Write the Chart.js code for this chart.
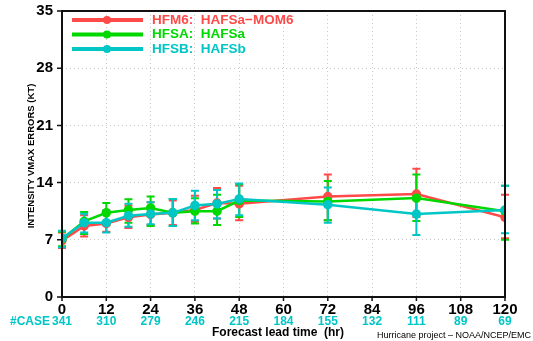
<!DOCTYPE html>
<html>
<head>
<meta charset="utf-8">
<script src="https://cdn.jsdelivr.net/npm/chart.js@4/dist/chart.umd.min.js"></script>
<style>
  html, body { margin: 0; padding: 0; background: #fff; }
  #wrap { width: 533px; height: 341px; }
</style>
</head>
<body>
<div id="wrap"><canvas id="chart" width="533" height="341"></canvas></div>
<script>
// forecast lead times (hr)
const leadTimes = [0, 6, 12, 18, 24, 30, 36, 42, 48, 72, 96, 120];
const caseCounts = [341, 310, 279, 246, 215, 184, 155, 132, 111, 89, 69];
const caseHours = [0, 12, 24, 36, 48, 60, 72, 84, 96, 108, 120];

// mean errors
const hfm6 = [6.9, 8.7, 9.0, 9.75, 10.1, 10.3, 10.65, 11.5, 11.4, 12.3, 12.6, 9.75];
const hfsa = [7.1, 9.25, 10.3, 10.65, 10.9, 10.3, 10.5, 10.5, 11.8, 11.7, 12.1, 10.5];
const hfsb = [7.2, 9.1, 9.1, 9.95, 10.15, 10.3, 11.2, 11.4, 12.0, 11.3, 10.15, 10.65];

// error bar ends (low / high)
const hfm6Lo = [6.0, 7.4, 8.0, 8.45, 8.8, 8.8, 9.2, 9.6, 9.4, 9.4, 9.8, 7.2];
const hfm6Hi = [7.9, 10.0, 10.6, 11.2, 11.6, 11.8, 12.4, 13.35, 13.6, 15.0, 15.7, 12.5];
const hfsaLo = [6.2, 7.7, 8.8, 9.1, 8.7, 8.7, 9.0, 8.8, 9.8, 9.4, 9.3, 7.0];
const hfsaHi = [8.0, 10.4, 11.5, 11.95, 12.3, 12.0, 12.1, 12.5, 13.8, 14.2, 15.0, 13.6];
const hfsbLo = [6.1, 7.9, 7.9, 8.6, 8.9, 8.7, 9.4, 9.6, 10.0, 9.1, 7.6, 7.8];
const hfsbHi = [8.1, 10.2, 10.6, 11.4, 11.6, 12.0, 13.0, 13.1, 13.9, 13.4, 12.7, 13.6];

const yTicks = [0, 7, 14, 21, 28, 35];

const RED = '#ff4a4a';
const GREEN = '#00d800';
const CYAN = '#00c6c6';
const FONT = '"Liberation Sans", Arial, sans-serif';

function pts(vals) {
  return leadTimes.map((t, i) => ({ x: t, y: vals[i] }));
}

const series = [
  { label: 'HFM6:  HAFSa\u2212MOM6', color: RED, data: hfm6, lo: hfm6Lo, hi: hfm6Hi, order: 2 },
  { label: 'HFSA:  HAFSa', color: GREEN, data: hfsa, lo: hfsaLo, hi: hfsaHi, order: 1 },
  { label: 'HFSB:  HAFSb', color: CYAN, data: hfsb, lo: hfsbLo, hi: hfsbHi, order: 0 }
];

// error bars, frame, tick marks, legend and extra text
const extras = {
  id: 'extras',
  beforeDatasetsDraw(chart) {
    const ctx = chart.ctx;
    const x = chart.scales.x, y = chart.scales.y;
    ctx.save();
    series.forEach((s) => {
      ctx.strokeStyle = s.color;
      ctx.lineWidth = 2;
      leadTimes.forEach((t, i) => {
        const px = x.getPixelForValue(t);
        const y1 = y.getPixelForValue(s.lo[i]);
        const y2 = y.getPixelForValue(s.hi[i]);
        ctx.beginPath();
        ctx.moveTo(px, y1); ctx.lineTo(px, y2);
        ctx.moveTo(px - 4, y1); ctx.lineTo(px + 4, y1);
        ctx.moveTo(px - 4, y2); ctx.lineTo(px + 4, y2);
        ctx.stroke();
      });
    });
    ctx.restore();
  },
  afterDraw(chart) {
    const ctx = chart.ctx;
    const a = chart.chartArea;
    const x = chart.scales.x, y = chart.scales.y;
    ctx.save();
    // frame
    ctx.strokeStyle = '#111';
    ctx.lineWidth = 2;
    ctx.strokeRect(a.left, a.top, a.right - a.left, a.bottom - a.top);
    // tick marks
    ctx.lineWidth = 1.5;
    ctx.beginPath();
    yTicks.forEach((v) => {
      const py = y.getPixelForValue(v);
      ctx.moveTo(a.left - 5, py); ctx.lineTo(a.left, py);
    });
    caseHours.forEach((h) => {
      const px = x.getPixelForValue(h);
      ctx.moveTo(px, a.bottom); ctx.lineTo(px, a.bottom + 4);
    });
    ctx.stroke();

    // legend
    ctx.font = 'bold 13.5px ' + FONT;
    ctx.textBaseline = 'middle';
    ctx.textAlign = 'left';
    series.forEach((s, i) => {
      const ly = 20 + i * 14.5;
      ctx.strokeStyle = s.color;
      ctx.fillStyle = s.color;
      ctx.lineWidth = 4;
      ctx.beginPath();
      ctx.moveTo(72, ly); ctx.lineTo(143, ly);
      ctx.stroke();
      ctx.beginPath();
      ctx.arc(107, ly, 4, 0, Math.PI * 2);
      ctx.fill();
      ctx.fillText(s.label, 152, ly);
    });

    // case counts
    ctx.font = 'bold 12px ' + FONT;
    ctx.fillStyle = CYAN;
    ctx.textAlign = 'center';
    caseHours.forEach((h, i) => {
      const px = x.getPixelForValue(h);
      ctx.fillText(String(caseCounts[i]), px, 322);
    });
    ctx.textAlign = 'right';
    ctx.fillText('#CASE', x.getPixelForValue(0) - 12, 322);

    // x title
    ctx.fillStyle = '#000';
    ctx.textAlign = 'center';
    ctx.font = 'bold 12px ' + FONT;
    ctx.fillText('Forecast lead time  (hr)', 278, 333);
    // footer
    ctx.font = '9px ' + FONT;
    ctx.textAlign = 'left';
    ctx.fillText('Hurricane project \u2013 NOAA/NCEP/EMC', 377, 336);

    // y title
    ctx.translate(31, 156);
    ctx.rotate(-Math.PI / 2);
    ctx.textAlign = 'center';
    ctx.font = 'bold 9.5px ' + FONT;
    ctx.fillText('INTENSITY VMAX ERRORS (KT)', 0, 0);
    ctx.restore();
  }
};

new Chart(document.getElementById('chart'), {
  type: 'line',
  data: {
    datasets: series.map((s) => ({
      label: s.label,
      data: pts(s.data),
      order: s.order,
      borderColor: s.color,
      backgroundColor: s.color,
      borderWidth: 2.5,
      pointRadius: 3.5,
      pointHoverRadius: 3.5,
      tension: 0
    }))
  },
  options: {
    responsive: false,
    animation: false,
    layout: { padding: { left: 0, right: 28, top: 11, bottom: 0 } },
    plugins: { legend: { display: false }, tooltip: { enabled: false } },
    scales: {
      x: {
        type: 'linear',
        min: 0,
        max: 120,
        afterFit(s) { s.height = 44; s.paddingLeft = 0; s.paddingRight = 0; },
        ticks: {
          stepSize: 12,
          padding: 4,
          color: '#000',
          font: { family: FONT, size: 15, weight: 'bold' }
        },
        grid: { color: '#c8c8c8', drawTicks: false },
        border: { display: false, dash: [1, 3] }
      },
      y: {
        min: 0,
        max: 35,
        afterFit(s) { s.width = 62; s.paddingTop = 0; s.paddingBottom = 0; },
        afterBuildTicks(s) { s.ticks = yTicks.map((v) => ({ value: v })); },
        ticks: {
          padding: 9,
          color: '#000',
          font: { family: FONT, size: 15, weight: 'bold' }
        },
        grid: { color: '#c8c8c8', drawTicks: false },
        border: { display: false, dash: [1, 3] }
      }
    }
  },
  plugins: [extras]
});
</script>
</body>
</html>
